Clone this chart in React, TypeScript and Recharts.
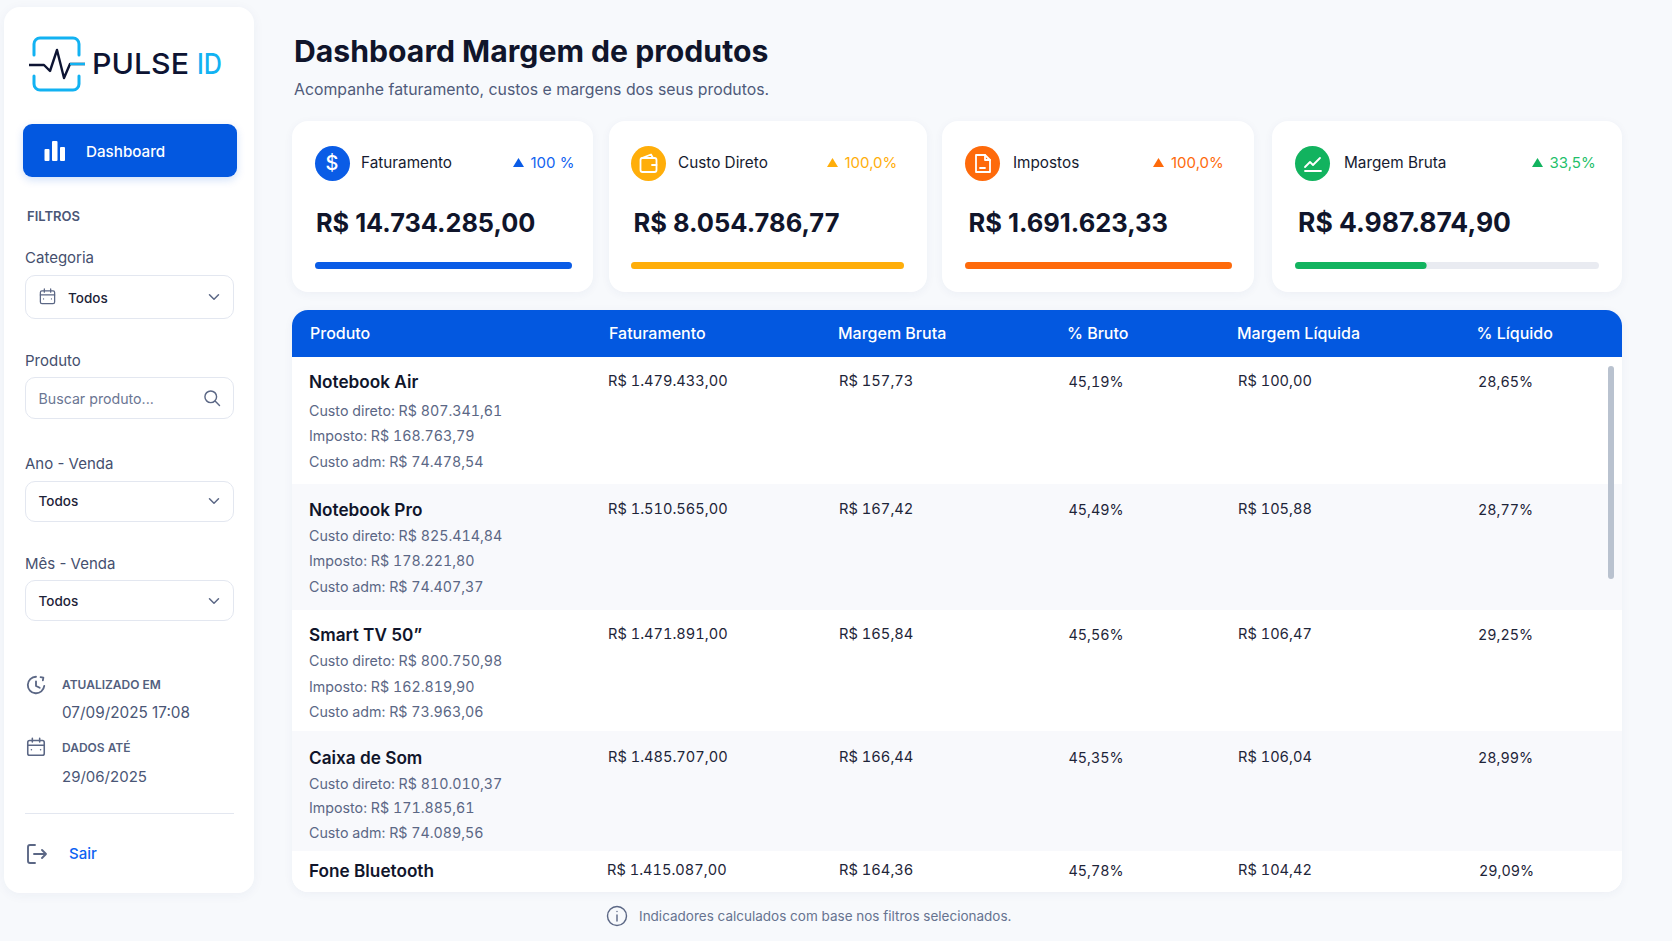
import { BarChart, Bar, XAxis, YAxis } from 'recharts';

const products = ['Notebook Air', 'Notebook Pro', 'Smart TV 50”', 'Caixa de Som', 'Fone Bluetooth'];
const faturamento = ['R$ 1.479.433,00', 'R$ 1.510.565,00', 'R$ 1.471.891,00', 'R$ 1.485.707,00', 'R$ 1.415.087,00'];
const margemBruta = ['R$ 157,73', 'R$ 167,42', 'R$ 165,84', 'R$ 166,44', 'R$ 164,36'];
const pctBruto = ['45,19%', '45,49%', '45,56%', '45,35%', '45,78%'];
const margemLiquida = ['R$ 100,00', 'R$ 105,88', 'R$ 106,47', 'R$ 106,04', 'R$ 104,42'];
const pctLiquido = ['28,65%', '28,77%', '29,25%', '28,99%', '29,09%'];
const custoDireto = ['R$ 807.341,61', 'R$ 825.414,84', 'R$ 800.750,98', 'R$ 810.010,37'];
const imposto = ['R$ 168.763,79', 'R$ 178.221,80', 'R$ 162.819,90', 'R$ 171.885,61'];
const custoAdm = ['R$ 74.478,54', 'R$ 74.407,37', 'R$ 73.963,06', 'R$ 74.089,56'];

const headers = ['Produto', 'Faturamento', 'Margem Bruta', '% Bruto', 'Margem Líquida', '% Líquido'];

const cardTitles = ['Faturamento', 'Custo Direto', 'Impostos', 'Margem Bruta'];
const cardValues = ['R$ 14.734.285,00', 'R$ 8.054.786,77', 'R$ 1.691.623,33', 'R$ 4.987.874,90'];
const cardChanges = ['100 %', '100,0%', '100,0%', '33,5%'];
const cardProgress = [100, 100, 100, 43.3];

const BLUE = '#0358e0';
const INK = '#10152b';
const SLATE = '#5b6785';

const cardLayout = [
  { x: 292, w: 301, icon: 314.5, label: 361, tri: 513, pct: 530.5, val: 316, valSize: 25.3, bar: 314.5, barW: 257, color: '#0a5ce6', pctColor: '#1163f0' },
  { x: 609, w: 318, icon: 631, label: 678, tri: 827, pct: 844.5, val: 633.5, valSize: 25.5, bar: 631, barW: 273, color: '#ffae0a', pctColor: '#ffae0a' },
  { x: 942, w: 312, icon: 965, label: 1013, tri: 1153, pct: 1171, val: 968.5, valSize: 25.5, bar: 965, barW: 267, color: '#fe6a0b', pctColor: '#fe6a0b' },
  { x: 1272, w: 350, icon: 1295, label: 1344, tri: 1532, pct: 1549.5, val: 1298, valSize: 26.5, bar: 1295, barW: 304, color: '#12b35f', pctColor: '#1fbf6b' },
];

const colX = [310, 609, 838, 1067, 1237, 1476.5];
const rowBands = [
  { top: 357, h: 127, bg: '#ffffff' },
  { top: 484, h: 126, bg: '#f8f9fc' },
  { top: 610, h: 121, bg: '#ffffff' },
  { top: 731, h: 120, bg: '#f8f9fc' },
  { top: 851, h: 41, bg: '#ffffff' },
];
const nameY = [382, 510, 634.5, 758, 870.5];
const detailY = [[410.5, 436, 461.5], [536, 561, 587], [661, 686.5, 712], [783.5, 808, 832.5]];

type TProps = { x: number; y: number; size: number; color?: string; weight?: number; children: React.ReactNode; tnum?: boolean };

function T({ x, y, size, color = INK, weight = 400, children, tnum = false }: TProps) {
  return (
    <div
      style={{
        position: 'absolute',
        left: x,
        top: y,
        transform: 'translateY(-50%)',
        fontSize: size,
        lineHeight: 1.2,
        color,
        fontWeight: weight,
        fontVariantNumeric: tnum ? 'tabular-nums' : 'normal',
        whiteSpace: 'nowrap',
      }}
    >
      {children}
    </div>
  );
}

function Box({ x, y, w, h, r, bg = '#fff', border, shadow }: { x: number; y: number; w: number; h: number; r: number; bg?: string; border?: string; shadow?: string }) {
  return (
    <div
      style={{
        position: 'absolute',
        left: x,
        top: y,
        width: w,
        height: h,
        borderRadius: r,
        background: bg,
        border,
        boxShadow: shadow,
        boxSizing: 'border-box',
      }}
    />
  );
}

function Icon({ x, y, size, children, color = SLATE, sw = 2 }: { x: number; y: number; size: number; children: React.ReactNode; color?: string; sw?: number }) {
  return (
    <svg
      width={size}
      height={size}
      viewBox="0 0 24 24"
      fill="none"
      stroke={color}
      strokeWidth={sw}
      strokeLinecap="round"
      strokeLinejoin="round"
      style={{ position: 'absolute', left: x, top: y }}
    >
      {children}
    </svg>
  );
}

const calendar = (
  <>
    <rect x="3" y="5" width="18" height="16" rx="2" />
    <path d="M3 10h18M8 2.5v4M16 2.5v4M7 15h.01M17 15h.01" />
  </>
);
const chevron = <path d="M6 9l6 6 6-6" />;

function ProgressBar({ index }: { index: number }) {
  const l = cardLayout[index];
  const data = [{ name: cardTitles[index], value: cardProgress[index] }];
  return (
    <div style={{ position: 'absolute', left: l.bar, top: 262 }}>
      <BarChart width={l.barW} height={7} data={data} layout="vertical" margin={{ top: 0, right: 0, bottom: 0, left: 0 }} barCategoryGap={0}>
        <XAxis type="number" domain={[0, 100]} hide />
        <YAxis type="category" dataKey="name" hide />
        <Bar dataKey="value" fill={l.color} background={{ fill: '#e9ebf1', radius: 3.5 }} radius={3.5} isAnimationActive={false} />
      </BarChart>
    </div>
  );
}

function CardIcon({ index }: { index: number }) {
  if (index === 0) {
    return <div style={{ position: 'absolute', inset: 0, color: '#fff', fontSize: 20, fontWeight: 500, textAlign: 'center', lineHeight: '35px' }}>$</div>;
  }
  return (
    <svg width={35} height={35} viewBox="0 0 35 35" fill="none" stroke="#fff" strokeWidth={1.8} strokeLinecap="round" strokeLinejoin="round" style={{ position: 'absolute', left: 0, top: 0 }}>
      {index === 1 && (
        <>
          <rect x="9.5" y="12" width="16" height="14" rx="2" />
          <path d="M11 12l9-3.5 2 3.5M21 19h4.5" />
        </>
      )}
      {index === 2 && (
        <>
          <path d="M11 9h9l5 5v12H11z" />
          <path d="M20 9v5h5M15 22h5" />
        </>
      )}
      {index === 3 && (
        <>
          <path d="M10 25h16" />
          <path d="M10 21l5-5 3 3 7-7" />
        </>
      )}
    </svg>
  );
}

function Card({ index }: { index: number }) {
  const l = cardLayout[index];
  return (
    <>
      <Box x={l.x} y={121} w={l.w} h={171} r={16} shadow="0 2px 10px rgba(40,60,110,0.05)" />
      <div style={{ position: 'absolute', left: l.icon, top: 145.5, width: 35, height: 35, borderRadius: '50%', background: l.color }}>
        <CardIcon index={index} />
      </div>
      <T x={l.label} y={163} size={15.3} color="#161b30">{cardTitles[index]}</T>
      <svg width={11} height={9} style={{ position: 'absolute', left: l.tri, top: 158 }}>
        <path d="M5.5 0L11 9H0z" fill={l.color} />
      </svg>
      <T x={l.pct} y={163} size={15} color={l.pctColor}>{cardChanges[index]}</T>
      <T x={l.val} y={223} size={l.valSize} weight={650} color={INK}>{cardValues[index]}</T>
      <ProgressBar index={index} />
    </>
  );
}

function Sidebar() {
  return (
    <>
      <Box x={4} y={7} w={250} h={886} r={16} shadow="0 2px 12px rgba(40,60,110,0.05)" />
      {/* logo */}
      <svg width={210} height={70} viewBox="0 0 210 70" style={{ position: 'absolute', left: 24, top: 30 }} fill="none">
        <path d="M10 25V14a6 6 0 0 1 6-6h33a6 6 0 0 1 6 6v11M10 46v8a6 6 0 0 0 6 6h33a6 6 0 0 0 6-6v-8" stroke="#12b2f2" strokeWidth={3} strokeLinecap="round" />
        <path d="M5 35h15l6 6 7-21 7 28 6-14h15" stroke="#0d1433" strokeWidth={2.4} strokeLinejoin="round" />
        <path d="M46 34h15" stroke="#12b2f2" strokeWidth={2.4} />
        <text x={68} y={44} fontSize={29} fontWeight={500} fill="#0d1433" textLength={97} lengthAdjust="spacingAndGlyphs">PULSE</text>
        <text x={173} y={44} fontSize={29} fontWeight={500} fill="#12b2f2" textLength={25} lengthAdjust="spacingAndGlyphs">ID</text>
      </svg>
      {/* nav */}
      <Box x={23} y={124} w={214} h={53} r={9} bg={BLUE} shadow="0 3px 8px rgba(3,88,224,0.18)" />
      <svg width={22} height={20} style={{ position: 'absolute', left: 44, top: 141 }}>
        <rect x={0.5} y={8} width={5} height={12} rx={1} fill="#fff" />
        <rect x={8} y={0} width={5.5} height={20} rx={1} fill="#fff" />
        <rect x={16} y={6} width={5} height={14} rx={1} fill="#fff" />
      </svg>
      <T x={86} y={151.5} size={15.2} weight={500} color="#fff">Dashboard</T>
      {/* filtros */}
      <T x={27} y={217} size={13} weight={600} color="#4a5676">FILTROS</T>
      <T x={25} y={257.5} size={15} color="#454f6e">Categoria</T>
      <Box x={25} y={275} w={209} h={44} r={10} border="1.5px solid #e3e7f0" />
      <Icon x={38} y={287} size={19} sw={1.6}>{calendar}</Icon>
      <T x={68} y={297.5} size={13.5} weight={500} color="#1d2338">Todos</T>
      <Icon x={205} y={288} size={18}>{chevron}</Icon>
      <T x={25} y={360.5} size={15} color="#454f6e">Produto</T>
      <Box x={25} y={377} w={209} h={42} r={10} border="1.5px solid #e3e7f0" />
      <T x={38.5} y={399} size={14.2} color="#6b7693">Buscar produto...</T>
      <Icon x={202} y={388} size={20} sw={1.7}>
        <circle cx="10.5" cy="10.5" r="7" />
        <path d="M16 16l5 5" />
      </Icon>
      <T x={25} y={463.5} size={15} color="#454f6e">Ano - Venda</T>
      <Box x={25} y={481} w={209} h={41} r={10} border="1.5px solid #e3e7f0" />
      <T x={38.5} y={501} size={13.5} weight={500} color="#1d2338">Todos</T>
      <Icon x={204.5} y={492} size={18}>{chevron}</Icon>
      <T x={25} y={564} size={15} color="#454f6e">Mês - Venda</T>
      <Box x={25} y={580} w={209} h={41} r={10} border="1.5px solid #e3e7f0" />
      <T x={38.5} y={601} size={13.5} weight={500} color="#1d2338">Todos</T>
      <Icon x={204.5} y={592} size={18}>{chevron}</Icon>
      {/* atualizacao */}
      <Icon x={25} y={674} size={22} sw={2}>
        <path d="M21 13a9 9 0 1 1-9-10M12 8v5l4 2M17 3.5l3 .5-.5 3" />
      </Icon>
      <T x={62} y={684.5} size={12} weight={600} color="#535f7e">ATUALIZADO EM</T>
      <T x={62} y={713} size={15.3} color="#4a5676">07/09/2025 17:08</T>
      <Icon x={25} y={736} size={22} sw={1.7}>{calendar}</Icon>
      <T x={62} y={748} size={12} weight={600} color="#535f7e">DADOS ATÉ</T>
      <T x={62} y={776.5} size={15} color="#4a5676">29/06/2025</T>
      <div style={{ position: 'absolute', left: 25, top: 813, width: 209, height: 1, background: '#e3e7f0' }} />
      <Icon x={25} y={842} size={24} sw={1.9}>
        <path d="M10 3H5a2 2 0 0 0-2 2v14a2 2 0 0 0 2 2h5M9 12h12M17 8l4 4-4 4" />
      </Icon>
      <T x={69} y={854} size={15} weight={500} color="#0d62f2">Sair</T>
    </>
  );
}

function Table() {
  return (
    <>
      <div style={{ position: 'absolute', left: 292, top: 310, width: 1330, height: 582, borderRadius: 16, background: '#fff', overflow: 'hidden', boxShadow: '0 2px 10px rgba(40,60,110,0.05)' }}>
        <div style={{ position: 'absolute', left: 0, top: 0, width: 1330, height: 47, background: BLUE }} />
        {rowBands.map((b, i) => (
          <div key={i} style={{ position: 'absolute', left: 0, top: b.top - 310, width: 1330, height: b.h, background: b.bg }} />
        ))}
      </div>
      {headers.map((h, i) => (
        <T key={h} x={colX[i]} y={334} size={16} weight={550} color="#fff">{h}</T>
      ))}
      {products.map((p, i) => (
        <div key={p}>
          <T x={309} y={nameY[i]} size={17.2} weight={600} color="#10152b">{p}</T>
          <T x={i === 4 ? 607 : 608} y={nameY[i]} size={14.6} color="#1e2539" tnum>{faturamento[i]}</T>
          <T x={839} y={nameY[i]} size={14.7} color="#1e2539" tnum>{margemBruta[i]}</T>
          <T x={1068.5} y={nameY[i]} size={14.3} color="#1e2539" tnum>{pctBruto[i]}</T>
          <T x={1238} y={nameY[i]} size={14.6} color="#1e2539" tnum>{margemLiquida[i]}</T>
          <T x={i === 4 ? 1479 : 1478} y={nameY[i]} size={14.3} color="#1e2539" tnum>{pctLiquido[i]}</T>
          {i < 4 && (
            <>
              <T x={309} y={detailY[i][0]} size={14.25} color={SLATE} tnum>Custo direto: {custoDireto[i]}</T>
              <T x={309} y={detailY[i][1]} size={14.25} color={SLATE} tnum>Imposto: {imposto[i]}</T>
              <T x={309} y={detailY[i][2]} size={14.25} color={SLATE} tnum>Custo adm: {custoAdm[i]}</T>
            </>
          )}
        </div>
      ))}
      <Box x={1608} y={366} w={6} h={213} r={3} bg="#b9c2cf" />
    </>
  );
}

export default function App() {
  return (
    <div style={{ position: 'fixed', left: 0, top: 0, width: 1672, height: 941, overflow: 'hidden', background: '#f7f9fc', fontFamily: 'Inter, sans-serif' }}>
      <Sidebar />
      <T x={294} y={51} size={30.2} weight={700} color="#10152b">Dashboard Margem de produtos</T>
      <T x={294} y={89} size={15.85} color="#4f5b7a">Acompanhe faturamento, custos e margens dos seus produtos.</T>
      {cardTitles.map((_, i) => (
        <Card key={i} index={i} />
      ))}
      <Table />
      <Icon x={605} y={904} size={24} sw={1.4}>
        <circle cx="12" cy="12" r="9.5" />
        <path d="M12 11v6M12 7.5h.01" />
      </Icon>
      <T x={639} y={916} size={13.5} color="#667390">Indicadores calculados com base nos filtros selecionados.</T>
    </div>
  );
}
